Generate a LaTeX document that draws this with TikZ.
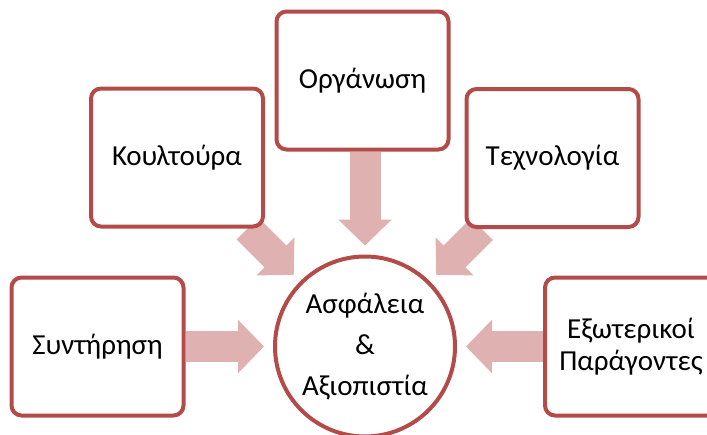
\documentclass[tikz,border=0pt]{standalone}
\usepackage{fontspec}
\setmainfont{Carlito}
\usepackage{xcolor}
\usepackage{tikz}
\usetikzlibrary{arrows.meta}
\usetikzlibrary{backgrounds}
\definecolor{boxred}{HTML}{B34C49}
\definecolor{arrowpink}{HTML}{DFB1B0}

\begin{document}
\begin{tikzpicture}[x=1pt,y=-1pt,
		box/.style={draw=boxred,line width=4pt,fill=white,rounded corners=10pt,
			minimum width=172pt,minimum height=138pt,align=center,
			font=\fontsize{29}{32}\selectfont},
		core/.style={circle,draw=boxred,line width=4pt,fill=white,
			minimum size=180pt,inner sep=0pt,align=center,
			font=\fontsize{29}{41}\selectfont},
		blockarrow/.style={draw=arrowpink,line width=31pt,
			-{Triangle[length=26pt,width=52pt]},shorten >=9pt}]
		\clip (0,0) rectangle (707,434);
		\node[core] (Circ) at (365,346.5) {Ασφάλεια\\\&\\Αξιοπιστία};
		\node[box] (Synt) at (97.5,346.5) {Συντήρηση};
		\node[box] (Koul) at (177,157.5) {Κουλτούρα};
		\node[box] (Org) at (362.5,80.5) {Οργάνωση};
		\node[box] (Tech) at (552.5,158) {Τεχνολογία};
		\node[box] (Exo) at (631,346.5) {Εξωτερικοί\\Παράγοντες};
		\begin{scope}[on background layer]
			\draw[blockarrow] (Synt) -- (Circ);
			\draw[blockarrow] (Koul) -- (Circ);
			\draw[blockarrow] (Circ |- Org.south) -- (Circ);
			\draw[blockarrow] (Tech) -- (Circ);
			\draw[blockarrow] (Exo) -- (Circ);
		\end{scope}
	\end{tikzpicture}
\end{document}
